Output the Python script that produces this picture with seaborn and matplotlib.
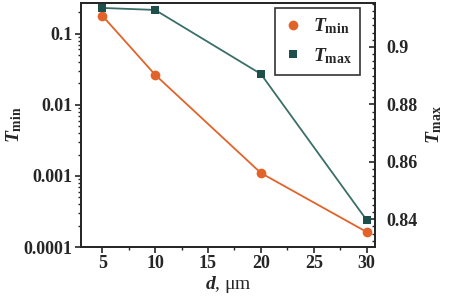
import matplotlib
matplotlib.use("Agg")
import matplotlib.pyplot as plt
from matplotlib.ticker import MultipleLocator, LogLocator, NullFormatter, FixedLocator, FixedFormatter
from matplotlib.lines import Line2D
import seaborn as sns
import pandas as pd

# data
d_um = [5, 10, 20, 30]
t_min = [0.18, 0.0265, 0.0011, 0.000163]
t_max = [0.9136, 0.9129, 0.8906, 0.8397]

sns.set_style("ticks")
plt.rcParams["font.family"] = ["Liberation Serif", "DejaVu Serif"]
plt.rcParams["font.weight"] = "bold"
plt.rcParams["mathtext.fontset"] = "custom"
plt.rcParams["mathtext.rm"] = "Liberation Serif:bold"
plt.rcParams["mathtext.it"] = "Liberation Serif:italic:bold"
plt.rcParams["mathtext.bf"] = "Liberation Serif:bold"

orange = "#E2632A"
teal = "#1E4F4B"
teal_line = "#3A6F68"

df = pd.DataFrame({"d": d_um, "tmin": t_min, "tmax": t_max})

fig = plt.figure(figsize=(4.58, 3.05), dpi=100)
ax = fig.add_axes([0.177, 0.19, 0.642, 0.80])
ax2 = ax.twinx()

sns.lineplot(data=df, x="d", y="tmin", ax=ax, color=orange, marker="o",
             markersize=7, markeredgewidth=0, linewidth=1.3)
sns.lineplot(data=df, x="d", y="tmax", ax=ax2, color=teal_line, marker="s",
             markersize=6, markerfacecolor=teal, markeredgewidth=0, linewidth=1.3)

ax.set_yscale("log")
ax.set_ylim(0.0001, 0.27)
ax.set_xlim(3, 30.8)
ax2.set_ylim(0.8303, 0.9153)

ax.xaxis.set_major_locator(MultipleLocator(5))
ax.xaxis.set_minor_locator(MultipleLocator(2.5))
ax.yaxis.set_major_locator(FixedLocator([0.0001, 0.001, 0.01, 0.1]))
ax.yaxis.set_major_formatter(FixedFormatter(["0.0001", "0.001", "0.01", "0.1"]))
ax.yaxis.set_minor_locator(LogLocator(base=10, subs=range(2, 10)))
ax.yaxis.set_minor_formatter(NullFormatter())
ax2.yaxis.set_minor_locator(MultipleLocator(0.0025))
ax2.set_yticks([0.84, 0.86, 0.88, 0.9])
ax2.set_yticklabels(["0.84", "0.86", "0.88", "0.9"])

ax.tick_params(axis="both", which="major", labelsize=13, length=4, width=1.2, direction="out", pad=2)
ax.tick_params(axis="both", which="minor", length=2.5, width=1, direction="out")
ax2.tick_params(axis="y", which="major", labelsize=13, length=4, width=1.2, direction="in", pad=8)
ax2.tick_params(axis="y", which="minor", length=2.5, width=1, direction="in")

for a in (ax, ax2):
    for s in a.spines.values():
        s.set_linewidth(1.3)
        s.set_visible(True)

ax.set_xlabel("$d$, μm", fontsize=14, labelpad=1)
ax.set_ylabel("$T_{\\rm min}$", fontsize=14, labelpad=0)
ax2.set_ylabel("$T_{\\rm max}$", fontsize=14, labelpad=5)

handles = [
    Line2D([], [], color=orange, marker="o", linestyle="none", markersize=7, markeredgewidth=0),
    Line2D([], [], color=teal, marker="s", linestyle="none", markersize=6, markeredgewidth=0),
]
leg = ax2.legend(handles, ["$T_{\\rm min}$", "$T_{\\rm max}$"], loc="upper right",
                 fontsize=14, frameon=True, fancybox=False, edgecolor="black",
                 handlelength=1.0, handletextpad=0.5, borderpad=0.45, labelspacing=0.5,
                 borderaxespad=0, bbox_to_anchor=(0.95, 0.98))
leg.get_frame().set_linewidth(1.2)

fig.savefig("out.png", dpi=100)
